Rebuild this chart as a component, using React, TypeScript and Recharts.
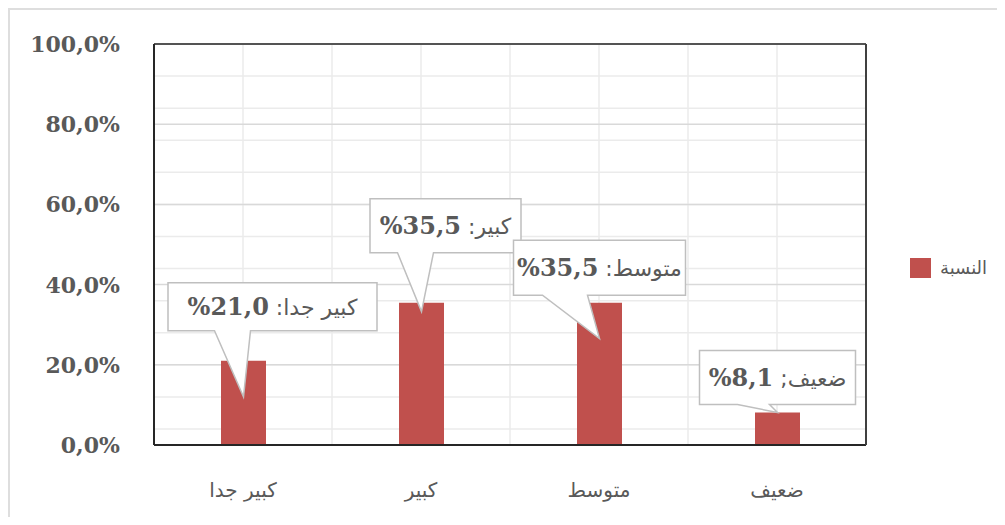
import React from 'react';
import {
  BarChart,
  Bar,
  XAxis,
  YAxis,
  CartesianGrid,
  Legend,
  LabelList,
} from 'recharts';

const categories = ['كبير جدا', 'كبير', 'متوسط', 'ضعيف'];
const values = [21.0, 35.5, 35.5, 8.1];
const valueLabels = ['21,0', '35,5', '35,5', '8,1'];
const separators = [':', ':', ':', ';'];
const yTicks = [0, 20, 40, 60, 80, 100];
const minorTicks = [0, 4, 8, 12, 16, 20, 24, 28, 32, 36, 40, 44, 48, 52, 56, 60, 64, 68, 72, 76, 80, 84, 88, 92, 96, 100];
const seriesName = 'النسبة';

const data = categories.map((name, i) => ({ name, value: values[i] }));

const BAR_COLOR = '#c0504d';
const TEXT_COLOR = '#595959';
const FRAME = '#262626';

// callout box placement relative to the top centre of each bar
const callouts = [
  { dx: 29, dy: -54, w: 209, h: 48, tipDy: 36, b0: -29, b1: 7 },
  { dx: 24, dy: -77, w: 151, h: 54, tipDy: 9, b0: -24, b1: 12 },
  { dx: 0, dy: -35, w: 172, h: 55, tipDy: 36, b0: -57, b1: -12 },
  { dx: 0, dy: -35, w: 156, h: 54, tipDy: 0, b0: -40, b1: -8 },
];

const fmtPct = (v: number) => v.toFixed(1).replace('.', ',') + '%';

const YTick = (props: any) => {
  const { x, y, payload } = props;
  return (
    <text
      x={x}
      y={y}
      dy="0.36em"
      textAnchor="end"
      fill={TEXT_COLOR}
      fontFamily="DejaVu Serif"
      fontWeight="bold"
      fontSize={22}
    >
      {fmtPct(payload.value)}
    </text>
  );
};

const XTick = (props: any) => {
  const { x, y, payload } = props;
  return (
    <text
      x={x}
      y={y}
      dy="0.35em"
      textAnchor="middle"
      fill={TEXT_COLOR}
      fontFamily="DejaVu Sans"
      fontSize={20}
    >
      {payload.value}
    </text>
  );
};

const Callout = (props: any) => {
  const { x, y, width, index } = props;
  const c = callouts[index];
  const cx = x + width / 2;
  const bx = cx + c.dx;
  const by = y + c.dy;
  const l = bx - c.w / 2;
  const r = bx + c.w / 2;
  const t = by - c.h / 2;
  const b = by + c.h / 2;
  const path = [
    `M${l},${t}`,
    `L${r},${t}`,
    `L${r},${b}`,
    `L${cx + c.b1},${b}`,
    `L${cx},${y + c.tipDy}`,
    `L${cx + c.b0},${b}`,
    `L${l},${b}`,
    'Z',
  ].join(' ');
  return (
    <g>
      <path d={path} fill="#ffffff" stroke="#bfbfbf" strokeWidth={1.5} />
      <text
        x={bx}
        y={by}
        dy="0.35em"
        textAnchor="middle"
        direction="ltr"
        fill={TEXT_COLOR}
        fontSize={24}
      >
        <tspan fontFamily="DejaVu Serif" fontWeight="bold">
          {'%' + valueLabels[index]}
        </tspan>
        <tspan fontFamily="DejaVu Sans" fontSize={22}>
          {' ' + separators[index] + categories[index]}
        </tspan>
      </text>
    </g>
  );
};

const LegendContent = (props: any) => {
  const { payload } = props;
  return (
    <div style={{ display: 'flex', alignItems: 'center' }}>
      {(payload || []).map((p: any) => (
        <div key={p.value} style={{ display: 'flex', alignItems: 'center' }}>
          <span style={{ width: 21, height: 20, background: BAR_COLOR, display: 'inline-block' }} />
          <span
            style={{
              marginLeft: 9,
              color: TEXT_COLOR,
              fontFamily: 'DejaVu Sans',
              fontSize: 18,
              lineHeight: '20px',
            }}
          >
            {p.value}
          </span>
        </div>
      ))}
    </div>
  );
};

export default function App() {
  return (
    <div
      style={{
        width: 995,
        height: 507,
        borderTop: '2px solid #dedede',
        borderLeft: '2px solid #dedede',
        background: '#fff',
      }}
    >
      <BarChart
        width={995}
        height={507}
        data={data}
        margin={{ top: 33, right: 138, bottom: 27, left: 0 }}
        barSize={45}
      >
        <CartesianGrid
          stroke="#ebebeb"
          strokeWidth={1.5}
          horizontalValues={minorTicks}
          verticalCoordinatesGenerator={({ offset }: any) =>
            [0, 1, 2, 3, 4, 5, 6, 7, 8].map((k) => offset.left + (offset.width * k) / 8)
          }
        />
        <CartesianGrid stroke="#d9d9d9" strokeWidth={1.5} vertical={false} horizontalValues={yTicks} />
        <XAxis
          dataKey="name"
          height={45}
          tickSize={0}
          tickMargin={45}
          tick={<XTick />}
          axisLine={{ stroke: FRAME, strokeWidth: 2 }}
        />
        <XAxis
          xAxisId="top"
          dataKey="name"
          orientation="top"
          height={1}
          tick={false}
          tickLine={false}
          axisLine={{ stroke: FRAME, strokeWidth: 1.5 }}
        />
        <YAxis
          domain={[0, 100]}
          ticks={yTicks}
          width={144}
          tickSize={0}
          tickMargin={34}
          tick={<YTick />}
          axisLine={{ stroke: FRAME, strokeWidth: 2 }}
        />
        <YAxis
          yAxisId="right"
          orientation="right"
          domain={[0, 100]}
          width={1}
          tick={false}
          tickLine={false}
          axisLine={{ stroke: '#404040', strokeWidth: 2 }}
        />
        <Legend
          align="center"
          verticalAlign="middle"
          layout="horizontal"
          content={<LegendContent />}
          wrapperStyle={{ left: 900, top: 248, width: 95, height: 22 }}
        />
        <Bar dataKey="value" name={seriesName} fill={BAR_COLOR} isAnimationActive={false}>
          <LabelList dataKey="value" content={<Callout />} />
        </Bar>
      </BarChart>
    </div>
  );
}
